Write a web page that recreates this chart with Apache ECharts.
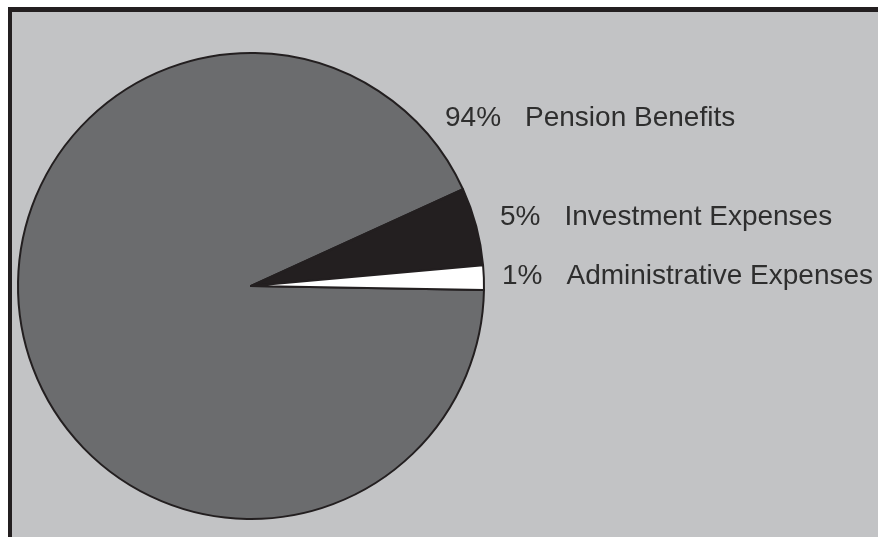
<!DOCTYPE html>
<html><head><meta charset="utf-8">
<script src="https://cdn.jsdelivr.net/npm/echarts@6/dist/echarts.min.js"></script>
<style>html,body{margin:0;padding:0;background:#fff;}#c{width:878px;height:537px;}</style>
</head><body><div id="c"></div>
<script>
const categories = ['Pension Benefits', 'Investment Expenses', 'Administrative Expenses'];
const percentLabels = ['94%', '5%', '1%'];
// slice shares as drawn in the picture (angles measured)
const values = [93, 5.4, 1.7];
const sliceColors = ['#6b6c6e', '#231f20', '#ffffff'];
const labelSpots = [[445, 118], [500, 217], [502, 276]];

const chart = echarts.init(document.getElementById('c'));
chart.setOption({
  animation: false,
  backgroundColor: '#ffffff',
  graphic: [
    { type: 'rect', shape: { x: 8, y: 7, width: 870, height: 530 }, style: { fill: '#231f20' }, z: -10 },
    { type: 'rect', shape: { x: 12, y: 12, width: 866, height: 525 }, style: { fill: '#c2c3c5' }, z: -9 }
  ],
  series: [{
    type: 'pie',
    center: [251, 286],
    radius: [0, 233],
    startAngle: -1,
    clockwise: true,
    itemStyle: { borderColor: '#231f20', borderWidth: 2 },
    data: categories.map((n, i) => ({ name: n, value: values[i], itemStyle: { color: sliceColors[i] } })),
    label: {
      show: true,
      position: 'inside',
      rotate: 0,
      overflow: 'none',
      formatter: function (p) { return '{p|' + percentLabels[p.dataIndex] + '}{n|' + p.name + '}'; },
      rich: {
        p: { fontFamily: 'Liberation Sans, Arial, sans-serif', fontSize: 28, color: '#2e2e2e', padding: [0, 24, 0, 0] },
        n: { fontFamily: 'Liberation Sans, Arial, sans-serif', fontSize: 28, color: '#2e2e2e' }
      }
    },
    labelLine: { show: false },
    labelLayout: function (params) {
      const s = labelSpots[params.dataIndex];
      return { x: s[0], y: s[1], align: 'left', verticalAlign: 'middle' };
    }
  }]
});
</script></body></html>
